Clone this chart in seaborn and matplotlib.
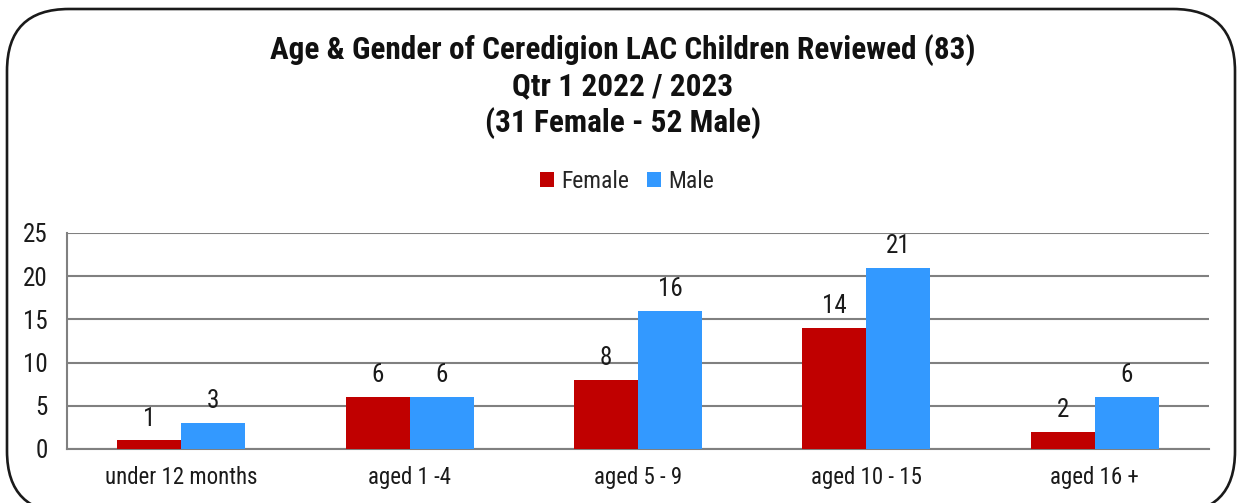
import matplotlib
matplotlib.use("Agg")
import matplotlib.pyplot as plt
from matplotlib.patches import FancyBboxPatch, Patch
import seaborn as sns
import pandas as pd
import logging
logging.getLogger("matplotlib.font_manager").setLevel(logging.ERROR)

categories = ["under 12 months", "aged 1 -4", "aged 5 - 9", "aged 10 - 15", "aged 16 +"]
female = [1, 6, 8, 14, 2]
male = [3, 6, 16, 21, 6]
series_names = ["Female", "Male"]
yticks = [0, 5, 10, 15, 20, 25]
title_lines = ["Age & Gender of Ceredigion LAC Children Reviewed (83)",
               "Qtr 1 2022 / 2023",
               "(31 Female - 52 Male)"]

sns.set_theme(style="white")
plt.rcParams['font.family'] = ['Liberation Sans Narrow', 'Arial Narrow', 'Roboto Condensed',
                               'Archivo Narrow', 'Liberation Sans', 'DejaVu Sans']

df = pd.DataFrame({
    "category": categories * 2,
    "value": female + male,
    "gender": [series_names[0]] * len(categories) + [series_names[1]] * len(categories),
})

W, H = 1239, 503
fig = plt.figure(figsize=(W / 100, H / 100), dpi=100)
fig.patch.set_facecolor("white")

# rounded border
border = FancyBboxPatch((7 / W, -0.02), (1235 - 7) / W, (503 - 9) / H + 0.02,
                        boxstyle="round,pad=0,rounding_size=0.05",
                        transform=fig.transFigure, facecolor="none",
                        edgecolor="#1a1a1a", linewidth=1.9, zorder=10,
                        mutation_aspect=W / H)
fig.patches.append(border)

ax = fig.add_axes([67 / W, 1 - 449 / H, (1209 - 67) / W, (449 - 233) / H])
palette = {"Female": "#C00000", "Male": "#3399FF"}
sns.barplot(data=df, x="category", y="value", hue="gender", palette=palette,
            width=0.56, ax=ax, saturation=1, legend=False, zorder=3, linewidth=0)

ax.set_ylim(0, 25)
ax.set_yticks(yticks)
ax.set_xlim(-0.5, len(categories) - 0.5)
ax.yaxis.grid(True, color="#808080", linewidth=1.5, zorder=0)
ax.set_axisbelow(True)
for s in ["top", "right"]:
    ax.spines[s].set_visible(False)
for s in ["left", "bottom"]:
    ax.spines[s].set_color("#808080")
    ax.spines[s].set_linewidth(1.5)
ax.set_xlabel("")
ax.set_ylabel("")
ax.tick_params(axis="both", length=0, colors="#1a1a1a")
ax.tick_params(axis="y", pad=14, labelsize=18)
ax.tick_params(axis="x", pad=12, labelsize=16.5)

for cont in ax.containers:
    ax.bar_label(cont, labels=[f"{int(v)}" for v in cont.datavalues],
                 padding=7, fontsize=18, color="#1a1a1a")

handles = [Patch(facecolor=palette[n], edgecolor="none") for n in series_names]
fig.legend(handles, series_names, loc="center", bbox_to_anchor=(627 / W, 1 - 181 / H),
           ncol=2, frameon=False, fontsize=17, handlelength=0.6, handleheight=0.6,
           handletextpad=0.3, columnspacing=0.75)

ys = [50, 86, 123]
for t, y in zip(title_lines, ys):
    fig.text(623 / W, 1 - y / H, t, ha="center", va="center", fontsize=22.5,
             fontweight="bold", color="#111111")

fig.savefig("out.png", dpi=100, facecolor="white")
